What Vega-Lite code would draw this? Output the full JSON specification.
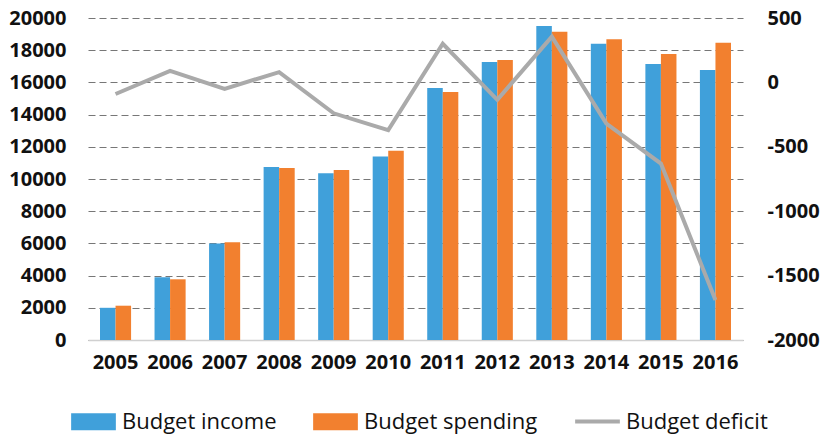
{
  "$schema": "https://vega.github.io/schema/vega-lite/v6.json",
  "width": 655,
  "height": 322,
  "autosize": {"type": "none"},
  "padding": {"left": 88, "top": 18, "right": 83, "bottom": 96},
  "background": "white",
  "config": {
    "view": {"stroke": null},
    "font": "Open Sans",
    "axis": {"labelFont": "Open Sans", "labelFontSize": 20, "labelFontWeight": "bold", "labelColor": "#111"},
    "legend": {"labelFont": "Open Sans", "labelFontSize": 22, "labelColor": "#111", "labelLimit": 400}
  },
  "datasets": {
    "bars": [
      {"year": "2005", "series": "Budget income", "value": 2000},
      {"year": "2005", "series": "Budget spending", "value": 2130},
      {"year": "2006", "series": "Budget income", "value": 3900},
      {"year": "2006", "series": "Budget spending", "value": 3770},
      {"year": "2007", "series": "Budget income", "value": 6000},
      {"year": "2007", "series": "Budget spending", "value": 6070},
      {"year": "2008", "series": "Budget income", "value": 10750},
      {"year": "2008", "series": "Budget spending", "value": 10680},
      {"year": "2009", "series": "Budget income", "value": 10350},
      {"year": "2009", "series": "Budget spending", "value": 10560},
      {"year": "2010", "series": "Budget income", "value": 11400},
      {"year": "2010", "series": "Budget spending", "value": 11750},
      {"year": "2011", "series": "Budget income", "value": 15650},
      {"year": "2011", "series": "Budget spending", "value": 15400},
      {"year": "2012", "series": "Budget income", "value": 17270},
      {"year": "2012", "series": "Budget spending", "value": 17390},
      {"year": "2013", "series": "Budget income", "value": 19500},
      {"year": "2013", "series": "Budget spending", "value": 19150},
      {"year": "2014", "series": "Budget income", "value": 18400},
      {"year": "2014", "series": "Budget spending", "value": 18680},
      {"year": "2015", "series": "Budget income", "value": 17140},
      {"year": "2015", "series": "Budget spending", "value": 17760},
      {"year": "2016", "series": "Budget income", "value": 16770},
      {"year": "2016", "series": "Budget spending", "value": 18470}
    ],
    "deficit": [
      {"year": "2005", "series": "Budget deficit", "deficit": -90},
      {"year": "2006", "series": "Budget deficit", "deficit": 90},
      {"year": "2007", "series": "Budget deficit", "deficit": -50},
      {"year": "2008", "series": "Budget deficit", "deficit": 80},
      {"year": "2009", "series": "Budget deficit", "deficit": -240},
      {"year": "2010", "series": "Budget deficit", "deficit": -370},
      {"year": "2011", "series": "Budget deficit", "deficit": 300},
      {"year": "2012", "series": "Budget deficit", "deficit": -135},
      {"year": "2013", "series": "Budget deficit", "deficit": 355},
      {"year": "2014", "series": "Budget deficit", "deficit": -320},
      {"year": "2015", "series": "Budget deficit", "deficit": -630},
      {"year": "2016", "series": "Budget deficit", "deficit": -1690}
    ]
  },
  "encoding": {
    "x": {
      "field": "year", "type": "nominal", "title": null,
      "scale": {"paddingInner": 0.43, "paddingOuter": 0.22},
      "axis": {"labelAngle": 0, "ticks": false, "domain": true, "domainColor": "#d0d0d0", "domainWidth": 1.5, "labelPadding": 12}
    }
  },
  "layer": [
    {
      "data": {"name": "bars"},
      "mark": {"type": "bar"},
      "encoding": {
        "xOffset": {"field": "series", "type": "nominal", "sort": ["Budget income", "Budget spending"], "scale": {"paddingInner": 0}},
        "y": {
          "field": "value", "type": "quantitative", "title": null,
          "scale": {"domain": [0, 20000], "nice": false},
          "axis": {"values": [0, 2000, 4000, 6000, 8000, 10000, 12000, 14000, 16000, 18000, 20000], "domain": false, "ticks": false, "labelPadding": 22, "grid": true, "gridColor": "#777", "gridDash": [7, 4], "gridWidth": 1, "format": "d"}
        },
        "fill": {
          "field": "series", "type": "nominal", "title": null,
          "scale": {"domain": ["Budget income", "Budget spending"], "range": ["#40a0da", "#f2802f"]},
          "legend": {"orient": "none", "legendX": -17, "legendY": 381, "direction": "horizontal", "symbolType": "M-1,-0.38H1V0.38H-1Z", "symbolSize": 2000, "symbolStrokeWidth": 0, "symbolOpacity": 1, "labelOffset": 6, "columnPadding": 36, "padding": 0}
        }
      }
    },
    {
      "data": {"name": "deficit"},
      "mark": {"type": "line", "strokeWidth": 4, "strokeJoin": "miter"},
      "encoding": {
        "y": {
          "field": "deficit", "type": "quantitative", "title": null,
          "scale": {"domain": [-2000, 500], "nice": false},
          "axis": {"orient": "right", "values": [-2000, -1500, -1000, -500, 0, 500], "domain": false, "ticks": false, "grid": false, "labelPadding": 24, "labelExpr": "datum.value < 0 ? '-' + abs(datum.value) : '' + datum.value"}
        },
        "stroke": {
          "field": "series", "type": "nominal", "title": null,
          "scale": {"domain": ["Budget deficit"], "range": ["#aaaaaa"]},
          "legend": {"orient": "none", "legendX": 485, "legendY": 379, "direction": "horizontal", "symbolType": "stroke", "symbolSize": 2000, "symbolStrokeWidth": 4, "labelOffset": 4, "padding": 0}
        }
      }
    }
  ],
  "resolve": {"scale": {"y": "independent"}}
}
